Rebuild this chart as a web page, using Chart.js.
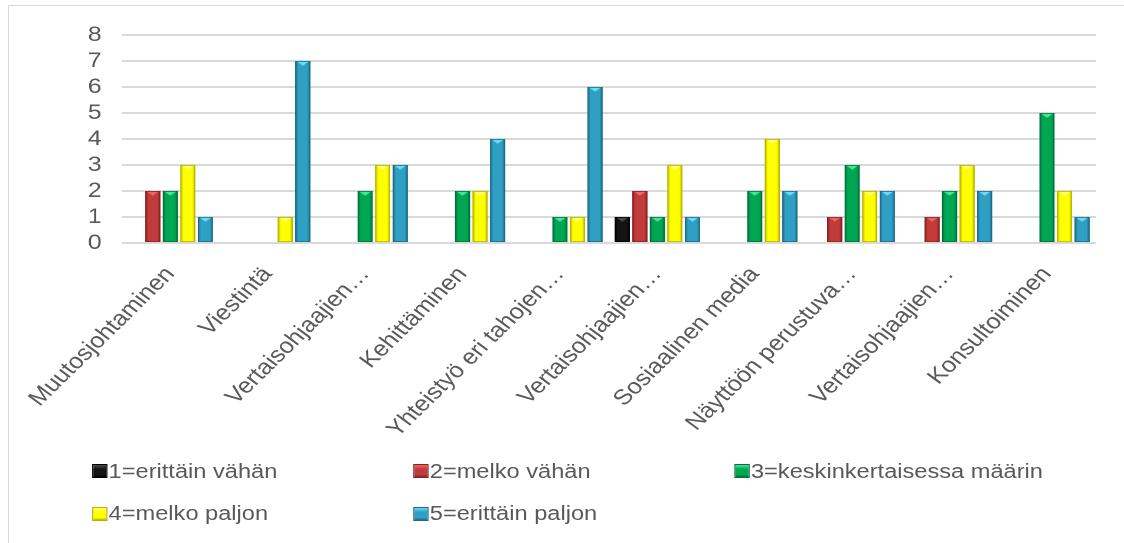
<!DOCTYPE html>
<html>
<head>
<meta charset="utf-8">
<script src="https://cdn.jsdelivr.net/npm/chart.js@4"></script>
<style>
  html, body { margin: 0; padding: 0; background: #fff; }
  body { width: 1124px; height: 543px; overflow: hidden; position: relative; font-family: "Liberation Sans", Arial, sans-serif; }
  #frame { position: absolute; left: 8px; top: 5px; right: -2px; bottom: -2px; border-left: 1.5px solid #d9d9d9; border-top: 1.5px solid #d9d9d9; }
  /* the whole chart is drawn a bit narrower and widened as one piece */
  #stage { position: absolute; left: 0; top: 0; width: 952px; height: 543px; transform-origin: 0 0; transform: scaleX(1.1807); }
  #chart { display: block; width: 952px; height: 445px; }
  #legend { position: absolute; left: 78px; top: 450px; }
  .row { display: flex; height: 42.5px; align-items: center; }
  .item { width: 272px; display: flex; align-items: center; font-size: 20px; color: #595959; white-space: nowrap; }
  .swatch { width: 12.5px; height: 14px; margin-right: 1.5px; box-sizing: border-box; border: 1px solid; }
</style>
</head>
<body>
<div id="frame"></div>
<div id="stage">
  <canvas id="chart" width="952" height="445"></canvas>
  <div id="legend"></div>
</div>
<script>
const categories = [
  'Muutosjohtaminen', 'Viestintä', 'Vertaisohjaajien…', 'Kehittäminen', 'Yhteistyö eri tahojen…',
  'Vertaisohjaajien…', 'Sosiaalinen media', 'Näyttöön perustuva…', 'Vertaisohjaajien…', 'Konsultoiminen'
];
const seriesNames = ['1=erittäin vähän', '2=melko vähän', '3=keskinkertaisessa määrin', '4=melko paljon', '5=erittäin paljon'];

const erittainVahan   = [0, 0, 0, 0, 0, 1, 0, 0, 0, 0];
const melkoVahan      = [2, 0, 0, 0, 0, 2, 0, 1, 1, 0];
const keskinkertainen = [2, 0, 2, 2, 1, 1, 2, 3, 2, 5];
const melkoPaljon     = [3, 1, 3, 2, 1, 3, 4, 2, 3, 2];
const erittainPaljon  = [1, 7, 3, 4, 6, 1, 2, 2, 2, 1];

const yMin = 0;
const yMax = 8;
const yStep = 1;

// base / edge / top-facet colours per series
const tones = [
  { base: '#141414', dark: '#000000', light: '#4a4a4a' },
  { base: '#c23b3b', dark: '#872222', light: '#ee6565' },
  { base: '#00a651', dark: '#00713a', light: '#45e596' },
  { base: '#ffff00', dark: '#b5b500', light: '#ffff70' },
  { base: '#2f9fc4', dark: '#1c6b86', light: '#66dcf7' }
];

const values = [erittainVahan, melkoVahan, keskinkertainen, melkoPaljon, erittainPaljon];

// beveled look: shaded sides and a light wedge on the top of every bar
const bevel = {
  id: 'bevel',
  afterDatasetsDraw(chart) {
    const ctx = chart.ctx;
    chart.data.datasets.forEach((ds, i) => {
      const meta = chart.getDatasetMeta(i);
      const tone = tones[i];
      meta.data.forEach(bar => {
        const { x, y, base, width } = bar.getProps(['x', 'y', 'base', 'width'], true);
        const h = base - y;
        if (h < 1) return;
        const l = x - width / 2, r = x + width / 2;
        ctx.save();
        const g = ctx.createLinearGradient(l, 0, r, 0);
        g.addColorStop(0, tone.dark);
        g.addColorStop(0.2, tone.base);
        g.addColorStop(0.8, tone.base);
        g.addColorStop(1, tone.dark);
        ctx.fillStyle = g;
        ctx.fillRect(l, y, width, h);
        ctx.fillStyle = tone.light;
        ctx.beginPath();
        ctx.moveTo(l + 1.2, y + 0.5);
        ctx.lineTo(r - 1.2, y + 0.5);
        ctx.lineTo(x, y + Math.min(width * 0.38, h - 1));
        ctx.closePath();
        ctx.fill();
        ctx.strokeStyle = tone.dark;
        ctx.lineWidth = 0.8;
        ctx.strokeRect(l + 0.4, y + 0.4, width - 0.8, h - 0.8);
        ctx.restore();
      });
    });
  }
};

const chart = new Chart(document.getElementById('chart'), {
  type: 'bar',
  data: {
    labels: categories,
    datasets: seriesNames.map((name, i) => ({
      label: name,
      data: values[i],
      backgroundColor: tones[i].base,
      borderColor: tones[i].dark,
      borderWidth: 0,
      categoryPercentage: 0.9,
      barPercentage: 0.85
    }))
  },
  options: {
    responsive: false,
    devicePixelRatio: 2,
    animation: false,
    layout: { padding: { top: 35, right: 24, left: 0, bottom: 0 } },
    plugins: {
      legend: { display: false },
      tooltip: { enabled: false }
    },
    scales: {
      x: {
        grid: { display: false },
        border: { display: false },
        ticks: {
          autoSkip: false,
          minRotation: 49,
          maxRotation: 49,
          padding: 11,
          color: '#595959',
          font: { family: '"Liberation Sans", Arial, sans-serif', size: 21.5 }
        },
        afterFit(scale) { scale.height = 202; }
      },
      y: {
        min: yMin,
        max: yMax,
        grid: { color: '#d9d9d9', lineWidth: 2, drawTicks: false },
        border: { display: false },
        ticks: {
          stepSize: yStep,
          autoSkip: false,
          padding: 17,
          color: '#595959',
          font: { family: '"Liberation Sans", Arial, sans-serif', size: 21 }
        },
        afterFit(scale) { scale.width = 103; }
      }
    }
  },
  plugins: [bevel]
});

// legend in a fixed three-column grid
const legend = document.getElementById('legend');
let row;
chart.data.datasets.forEach((ds, i) => {
  if (i % 3 === 0) {
    row = document.createElement('div');
    row.className = 'row';
    legend.appendChild(row);
  }
  const item = document.createElement('div');
  item.className = 'item';
  const sw = document.createElement('span');
  sw.className = 'swatch';
  const t = tones[i];
  sw.style.borderColor = t.dark;
  sw.style.background = `linear-gradient(to bottom, ${t.light} 0, ${t.base} 35%, ${t.base} 80%, ${t.dark} 100%)`;
  const txt = document.createElement('span');
  txt.textContent = ds.label;
  item.appendChild(sw);
  item.appendChild(txt);
  row.appendChild(item);
});
</script>
</body>
</html>
